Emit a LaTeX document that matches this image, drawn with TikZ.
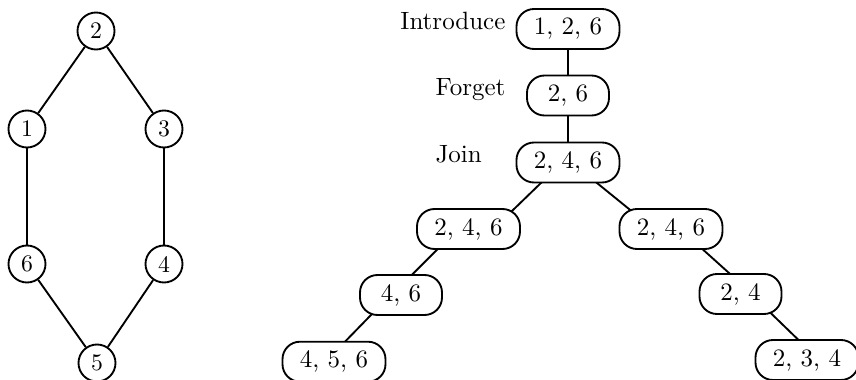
\documentclass[tikz,border=0pt]{standalone}
\usetikzlibrary{calc,backgrounds}
\begin{document}
\begin{tikzpicture}[x=0.4pt,y=-0.4pt,
  vtx/.style={circle,draw,line width=0.75pt,minimum size=14.8pt,inner sep=0pt,font=\fontsize{9.5}{11}\selectfont},
  bag/.style={rectangle,draw,line width=0.75pt,rounded corners=7pt,fill=white,minimum height=16pt,inner sep=0pt},
  wide/.style={bag,minimum width=41.2pt},
  narrow/.style={bag,minimum width=32.8pt},
  lbl/.style={anchor=base west,inner sep=0pt},
  link/.style={line width=0.75pt}]
\useasboundingbox (0,0) rectangle (856,380);
% left graph
\node[vtx] (v2) at (96,31) {2};
\node[vtx] (v1) at (27,129) {1};
\node[vtx] (v3) at (164,129) {3};
\node[vtx] (v6) at (27,264) {6};
\node[vtx] (v4) at (164,264) {4};
\node[vtx] (v5) at (97,363) {5};
\draw[link] (v2) -- (v1);
\draw[link] (v2) -- (v3);
\draw[link] (v1) -- (v6);
\draw[link] (v3) -- (v4);
\draw[link] (v6) -- (v5);
\draw[link] (v4) -- (v5);
% tree decomposition
\node[wide] (I) at (568,29) {1, 2, 6};
\node[narrow] (F) at (568,95.5) {2, 6};
\node[wide] (J) at (568,162.5) {2, 4, 6};
\node[wide] (L1) at (468.5,229) {2, 4, 6};
\node[wide] (R1) at (671,229) {2, 4, 6};
\node[narrow] (L2) at (401,295) {4, 6};
\node[narrow] (R2) at (740.5,294) {2, 4};
\node[wide] (L3) at (334,361.7) {4, 5, 6};
\node[wide] (R3) at (807,360) {2, 3, 4};
\node[lbl] (tI) at (400,29) {Introduce};
\node[lbl] (tF) at (435,95) {Forget};
\node[lbl] (tJ) at (435,163) {Join};
\begin{scope}[on background layer]
\draw[link] (I) -- (F);
\draw[link] (F) -- (J);
\draw[link] ($(J.center)+(-21.7,15.3)$) -- ($(L1.center)+(40.2,-14.8)$);
\draw[link] ($(J.center)+(24.3,16.7)$) -- ($(R1.center)+(-37.3,-16.2)$);
\draw[link] ($(L1.center)+(-27.6,16.8)$) -- ($(L2.center)+(6.5,-15.8)$);
\draw[link] ($(L2.center)+(-26.8,16.7)$) -- ($(L3.center)+(6.8,-15.7)$);
\draw[link] ($(R1.center)+(27.2,16.3)$) -- ($(R2.center)+(-6.7,-16.7)$);
\draw[link] ($(R2.center)+(27.9,16.8)$) -- ($(R3.center)+(-3.4,-15.1)$);
\end{scope}
\end{tikzpicture}
\end{document}
